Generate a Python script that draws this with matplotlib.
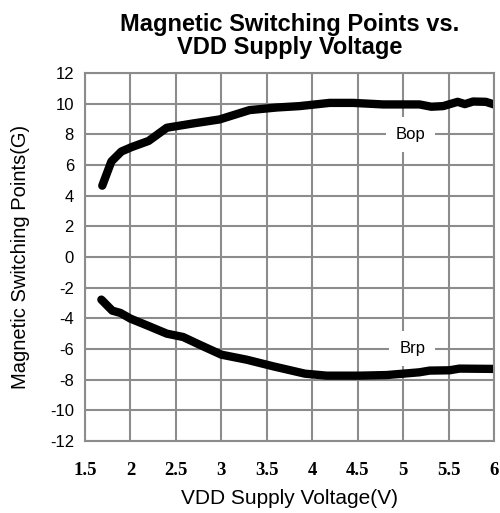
import matplotlib
matplotlib.use("Agg")
import matplotlib.pyplot as plt

bop_v = [1.69, 1.79, 1.90, 2.01, 2.20, 2.40, 2.69, 2.98, 3.31, 3.61, 3.86, 4.19, 4.45, 4.78, 5.18, 5.31, 5.44, 5.60, 5.68, 5.77, 5.91, 6.0]
bop_g = [4.65, 6.23, 6.88, 7.16, 7.57, 8.43, 8.71, 8.97, 9.58, 9.75, 9.84, 10.05, 10.05, 9.95, 9.95, 9.8, 9.84, 10.12, 9.97, 10.14, 10.12, 9.95]
brp_v = [1.68, 1.80, 1.89, 2.00, 2.19, 2.40, 2.58, 2.76, 3.00, 3.28, 3.57, 3.92, 4.16, 4.52, 4.82, 5.18, 5.29, 5.51, 5.62, 6.0]
brp_g = [-2.78, -3.5, -3.65, -4.02, -4.48, -5.0, -5.22, -5.72, -6.37, -6.7, -7.13, -7.61, -7.74, -7.74, -7.70, -7.52, -7.41, -7.39, -7.28, -7.3]
x_ticks = [1.5, 2, 2.5, 3, 3.5, 4, 4.5, 5, 5.5, 6]
x_labels = ["1.5", "2", "2.5", "3", "3.5", "4", "4.5", "5", "5.5", "6"]
y_ticks = list(range(-12, 13, 2))

plt.rcParams['font.family'] = ['Liberation Sans', 'DejaVu Sans']
fig = plt.figure(figsize=(5.0, 5.13), dpi=100)
ax = fig.add_axes([0.17, 0.1404, 0.818, 0.7173])

ax.set_xlim(1.5, 6)
ax.set_ylim(-12, 12)
ax.set_xticks(x_ticks)
ax.set_xticklabels(x_labels, family='Liberation Serif', fontweight='bold', fontsize=13.5)
ax.set_yticks(y_ticks)
ax.set_yticklabels([str(t) for t in y_ticks], fontsize=12)
ax.tick_params(length=0)
ax.tick_params(axis='y', pad=8)
ax.tick_params(axis='x', pad=15)
ax.grid(True, color='#8c8c8c', linewidth=1.5)
ax.set_axisbelow(True)
for s in ax.spines.values():
    s.set_color('#8c8c8c')
    s.set_linewidth(1.5)

ax.plot(bop_v, bop_g, color='black', linewidth=6, solid_capstyle='round', solid_joinstyle='round')
ax.plot(brp_v, brp_g, color='black', linewidth=6, solid_capstyle='round', solid_joinstyle='round')

ax.text(5.08, 8, "Bop", ha='center', va='center', fontsize=12,
        bbox=dict(facecolor='white', edgecolor='none', boxstyle='square,pad=0.6'))
ax.text(5.1, -6, "Brp", ha='center', va='center', fontsize=12,
        bbox=dict(facecolor='white', edgecolor='none', boxstyle='square,pad=0.6'))

ax.set_title("Magnetic Switching Points vs.\nVDD Supply Voltage", fontsize=17, fontweight='bold', pad=14, linespacing=0.95)
ax.set_xlabel("VDD Supply Voltage(V)", fontsize=15, labelpad=7)
ax.set_ylabel("Magnetic Switching Points(G)", fontsize=14.5, labelpad=14)

fig.savefig("out.png", dpi=100)
